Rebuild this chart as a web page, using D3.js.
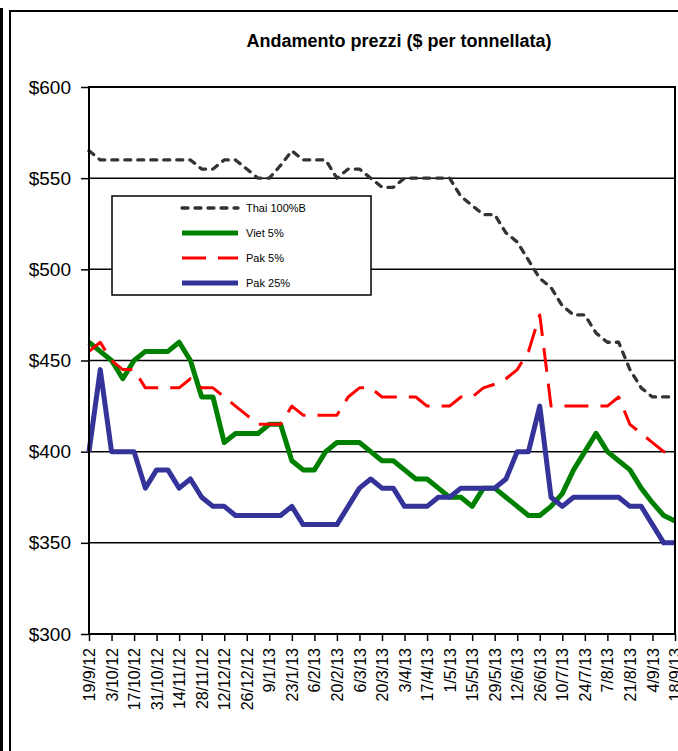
<!DOCTYPE html>
<html>
<head>
<meta charset="utf-8">
<script src="https://cdn.jsdelivr.net/npm/d3@7"></script>
<style>
  html, body { margin: 0; padding: 0; background: #fff; }
  svg { display: block; font-family: Arial, "Liberation Sans", sans-serif; }
</style>
</head>
<body>
<svg id="chart" width="678" height="751"></svg>
<script>
// ---- data ----
const dates = [
  "19/9/12","26/9/12","3/10/12","10/10/12","17/10/12","24/10/12","31/10/12","7/11/12",
  "14/11/12","21/11/12","28/11/12","5/12/12","12/12/12","19/12/12","26/12/12",
  "2/1/13","9/1/13","16/1/13","23/1/13","30/1/13","6/2/13","13/2/13","20/2/13","27/2/13",
  "6/3/13","13/3/13","20/3/13","27/3/13","3/4/13","10/4/13","17/4/13","24/4/13",
  "1/5/13","8/5/13","15/5/13","22/5/13","29/5/13","5/6/13","12/6/13","19/6/13","26/6/13",
  "3/7/13","10/7/13","17/7/13","24/7/13","31/7/13","7/8/13","14/8/13","21/8/13","28/8/13",
  "4/9/13","11/9/13","18/9/13"
];
const thai100B = [565,560,560,560,560,560,560,560,560,560,555,555,560,560,555,550,550,557,565,560,
  560,560,550,555,555,550,545,545,550,550,550,550,550,540,535,530,530,520,515,505,495,490,480,
  475,475,465,460,460,445,435,430,430,430];
const viet5 = [460,455,450,440,450,455,455,455,460,450,430,430,405,410,410,410,415,415,395,390,
  390,400,405,405,405,400,395,395,390,385,385,380,375,375,370,380,380,375,370,365,365,370,377,
  390,400,410,400,395,390,380,372,365,362];
const pak5 = [455,460,450,445,445,435,435,435,435,440,435,435,430,425,420,415,415,415,425,420,
  420,420,420,430,435,435,430,430,430,430,425,425,425,430,430,435,437,440,445,455,475,425,425,
  425,425,425,425,430,415,410,405,400,400];
const pak25 = [400,445,400,400,400,380,390,390,380,385,375,370,370,365,365,365,365,365,370,360,
  360,360,360,370,380,385,380,380,370,370,370,375,375,380,380,380,380,385,400,400,425,375,370,
  375,375,375,375,375,370,370,360,350,350];
const yTicks = [300,350,400,450,500,550,600];
const seriesNames = ["Thai 100%B","Viet 5%","Pak 5%","Pak 25%"];
const titleText = "Andamento prezzi ($ per tonnellata)";

// ---- layout ----
const svg = d3.select("#chart");
const L = 89, R = 675, T = 87, B = 634;

// outer frame
svg.append("rect").attr("x",0).attr("y",8).attr("width",3).attr("height",743).attr("fill","#000");
svg.append("path").attr("d","M10,751 L10,11 L678,11").attr("fill","none").attr("stroke","#000").attr("stroke-width",2);

svg.append("text").attr("x",399).attr("y",47).attr("text-anchor","middle")
  .attr("font-size",18).attr("font-weight","bold").text(titleText);

const x = d3.scalePoint().domain(dates).range([L,R]);
const y = d3.scaleLinear().domain([300,600]).range([B,T]);

// gridlines
svg.append("g").selectAll("line").data(yTicks.filter(v=>v>300 && v<600)).join("line")
  .attr("x1",L).attr("x2",R).attr("y1",d=>y(d)).attr("y2",d=>y(d))
  .attr("stroke","#000").attr("stroke-width",1.5);

// y axis
const yAxis = d3.axisLeft(y).tickValues(yTicks).tickSize(8).tickPadding(10).tickFormat(d=>"$"+d);
const gy = svg.append("g").attr("transform",`translate(${L},0)`).call(yAxis);
gy.select(".domain").remove();
gy.selectAll(".tick line").attr("stroke","#000").attr("stroke-width",1.5);
gy.selectAll(".tick text").attr("font-size",19).attr("fill","#000").attr("font-family","Arial, 'Liberation Sans', sans-serif");

// x axis
const labelDates = dates.filter((d,i)=>i%2===0);
const xAxis = d3.axisBottom(x).tickValues(labelDates).tickSize(7).tickPadding(0);
const gx = svg.append("g").attr("transform",`translate(0,${B})`).call(xAxis);
gx.select(".domain").remove();
gx.selectAll(".tick line").attr("stroke","#000").attr("stroke-width",1.5);
gx.selectAll(".tick text")
  .attr("font-size",16).attr("fill","#000").attr("font-family","Arial, 'Liberation Sans', sans-serif")
  .attr("text-anchor","end").attr("transform","translate(0,14) rotate(-90)")
  .attr("x",0).attr("y",0).attr("dy","0.35em");

// series
const line = d3.line().x((d,i)=>x(dates[i])).y(d=>y(d));
const styles = [
  {data: thai100B, color:"#333333", width:3.3, dash:"6,7", cap:"round"},
  {data: viet5, color:"#008000", width:5, dash:null, cap:"butt"},
  {data: pak5, color:"#ff0000", width:3, dash:"24,12", cap:"butt"},
  {data: pak25, color:"#333399", width:5, dash:null, cap:"butt"}
];
const gs = svg.append("g");
styles.forEach(s=>{
  gs.append("path").datum(s.data).attr("d",line).attr("fill","none")
    .attr("stroke",s.color).attr("stroke-width",s.width)
    .attr("stroke-dasharray",s.dash).attr("stroke-linecap",s.cap).attr("stroke-linejoin","round");
});

// plot border
svg.append("rect").attr("x",L).attr("y",T).attr("width",R-L).attr("height",B-T)
  .attr("fill","none").attr("stroke","#000").attr("stroke-width",2);

// legend
const lg = svg.append("g");
lg.append("rect").attr("x",112).attr("y",196).attr("width",259).attr("height",99)
  .attr("fill","#fff").attr("stroke","#000").attr("stroke-width",1.5);
const rowY = [208,233,258,283];
styles.forEach((s,i)=>{
  lg.append("line").attr("x1",182).attr("x2",238).attr("y1",rowY[i]).attr("y2",rowY[i])
    .attr("stroke",s.color).attr("stroke-width",s.width).attr("stroke-dasharray",s.dash)
    .attr("stroke-linecap",s.cap);
  lg.append("text").attr("x",246).attr("y",rowY[i]).attr("dy","0.35em")
    .attr("font-size",11).text(seriesNames[i]);
});
</script>
</body>
</html>
